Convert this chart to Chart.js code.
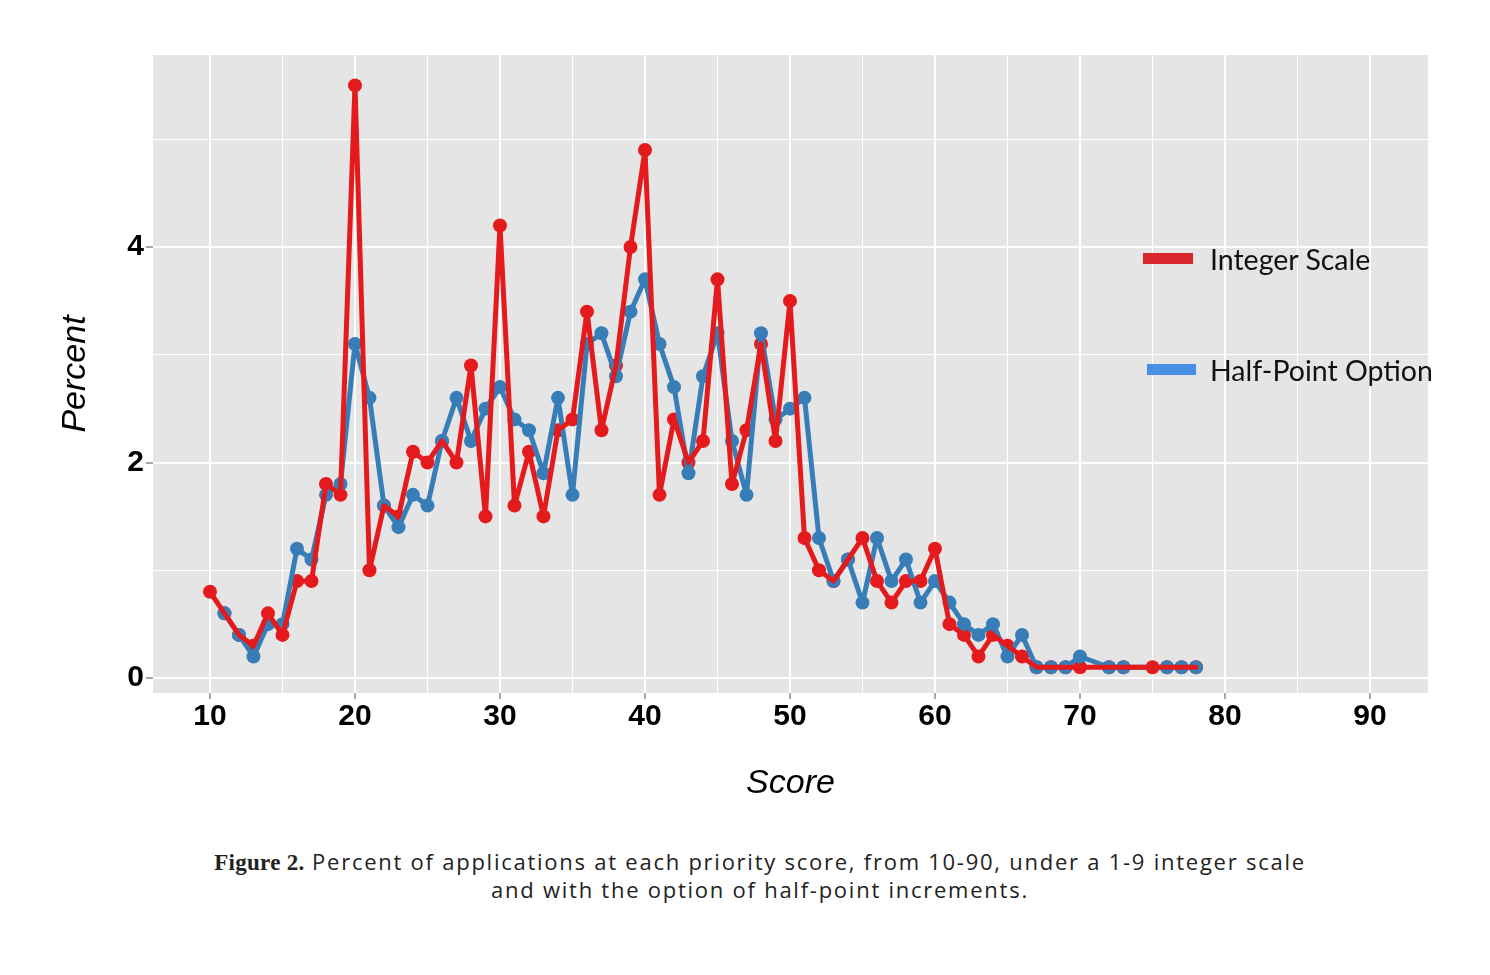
<!DOCTYPE html>
<html>
<head>
<meta charset="utf-8">
<script src="https://cdn.jsdelivr.net/npm/chart.js@4.4.1/dist/chart.umd.min.js"></script>
<style>
  html, body { margin: 0; padding: 0; background: #ffffff; }
  body { width: 1490px; height: 975px; position: relative; overflow: hidden; }
  #wrap { position: absolute; left: 0; top: 0; width: 1490px; height: 830px; }
  .leg-bar { position: absolute; height: 11px; }
  .leg-text { position: absolute; font-family: Lato, "Open Sans", sans-serif; font-size: 28.5px; color: #111; line-height: 1; white-space: nowrap; }
  #caption { position: absolute; left: 0; width: 1520px; top: 848px; text-align: center;
    font-family: "Open Sans", sans-serif; font-size: 22px; color: #222; letter-spacing: 1.75px; line-height: 27px; }
  #caption b { font-family: "Liberation Serif", "DejaVu Serif", serif; font-size: 23px; letter-spacing: 0.3px; font-weight: bold; }
</style>
</head>
<body>
<div id="wrap"><canvas id="c"></canvas></div>
<div class="leg-bar" style="left:1143px; top:253px; width:50px; background:#D9262C;"></div>
<div class="leg-text" style="left:1210px; top:245px;">Integer Scale</div>
<div class="leg-bar" style="left:1147px; top:364px; width:49px; background:#4A8FE6;"></div>
<div class="leg-text" style="left:1210px; top:356px;">Half-Point Option</div>
<div id="caption"><b>Figure 2.</b> Percent of applications at each priority score, from 10-90, under a 1-9 integer scale<br>and with the option of half-point increments.</div>
<script>
// ---- Data ----
const integerScores = [10,11,12,13,14,15,16,17,18,19,20,21,22,23,24,25,26,27,28,29,30,31,32,33,34,35,36,37,38,39,40,41,42,43,44,45,46,47,48,49,50,51,52,53,54,55,56,57,58,59,60,61,62,63,64,65,66,67,68,69,70,72,73,75,76,77,78];
const integerPercent = [0.8,0.6,0.4,0.3,0.6,0.4,0.9,0.9,1.8,1.7,5.5,1.0,1.6,1.5,2.1,2.0,2.2,2.0,2.9,1.5,4.2,1.6,2.1,1.5,2.3,2.4,3.4,2.3,2.9,4.0,4.9,1.7,2.4,2.0,2.2,3.7,1.8,2.3,3.1,2.2,3.5,1.3,1.0,0.9,1.1,1.3,0.9,0.7,0.9,0.9,1.2,0.5,0.4,0.2,0.4,0.3,0.2,0.1,0.1,0.1,0.1,0.1,0.1,0.1,0.1,0.1,0.1];

const halfScores = [11,12,13,14,15,16,17,18,19,20,21,22,23,24,25,26,27,28,29,30,31,32,33,34,35,36,37,38,39,40,41,42,43,44,45,46,47,48,49,50,51,52,53,54,55,56,57,58,59,60,61,62,63,64,65,66,67,68,69,70,72,73,76,77,78];
const halfPercent = [0.6,0.4,0.2,0.5,0.5,1.2,1.1,1.7,1.8,3.1,2.6,1.6,1.4,1.7,1.6,2.2,2.6,2.2,2.5,2.7,2.4,2.3,1.9,2.6,1.7,3.1,3.2,2.8,3.4,3.7,3.1,2.7,1.9,2.8,3.2,2.2,1.7,3.2,2.4,2.5,2.6,1.3,0.9,1.1,0.7,1.3,0.9,1.1,0.7,0.9,0.7,0.5,0.4,0.5,0.2,0.4,0.1,0.1,0.1,0.2,0.1,0.1,0.1,0.1,0.1];

const xTickLabels = [10,20,30,40,50,60,70,80,90];
const yTickLabels = [0,2,4];

const seriesNames = ['Integer Scale', 'Half-Point Option'];
const RED = '#E41A1C';
const BLUE = '#377EB8';

const toPoints = (xs, ys) => xs.map((x, i) => ({ x: x, y: ys[i] }));
const intPts = toPoints(integerScores, integerPercent);
const halfPts = toPoints(halfScores, halfPercent);

const panelBg = {
  id: 'panelBg',
  beforeDraw(chart) {
    const { ctx, chartArea: a } = chart;
    ctx.save();
    ctx.fillStyle = '#E5E5E5';
    ctx.fillRect(a.left, a.top, a.right - a.left, a.bottom - a.top);
    ctx.restore();
  }
};

const isMajorX = v => xTickLabels.includes(Math.round(v));
const isMajorY = v => yTickLabels.includes(Math.round(v));

new Chart(document.getElementById('c'), {
  type: 'line',
  data: {
    datasets: [
      { // red line on top
        label: seriesNames[0], data: intPts, order: 0,
        borderColor: RED, backgroundColor: RED, borderWidth: 5,
        borderJoinStyle: 'round', borderCapStyle: 'round',
        pointRadius: 0, tension: 0, fill: false
      },
      { // blue line + points
        label: seriesNames[1], data: halfPts, order: 1,
        borderColor: BLUE, backgroundColor: BLUE, borderWidth: 5,
        borderJoinStyle: 'round', borderCapStyle: 'round',
        pointRadius: 7, pointBorderWidth: 0, pointBackgroundColor: BLUE, tension: 0, fill: false
      },
      { // red points beneath
        label: seriesNames[0] + ' points', data: intPts, order: 2, showLine: false,
        borderColor: RED, backgroundColor: RED,
        pointRadius: 7, pointBorderWidth: 0, pointBackgroundColor: RED
      }
    ]
  },
  options: {
    responsive: true,
    maintainAspectRatio: false,
    animation: false,
    layout: { padding: { left: 0, top: 55, right: 62, bottom: 0 } },
    plugins: { legend: { display: false }, tooltip: { enabled: false } },
    scales: {
      x: {
        type: 'linear', min: 6.07, max: 94,
        afterFit(s) { s.height = 137; },
        border: { display: false },
        ticks: {
          stepSize: 5, includeBounds: false, autoSkip: false, maxRotation: 0, padding: 0,
          color: '#000', font: { family: 'Liberation Sans, Arial, sans-serif', size: 30, weight: 'bold' },
          callback: v => isMajorX(v) && v % 10 === 0 ? String(v) : ''
        },
        grid: {
          color: '#FFFFFF',
          lineWidth: c => (c.tick && c.tick.value % 10 === 0) ? 2 : 1,
          tickLength: 6,
          tickColor: c => (c.tick && c.tick.value % 10 === 0) ? '#8a8a8a' : 'rgba(0,0,0,0)',
          tickWidth: 1.5
        },
        title: {
          display: true, text: 'Score', color: '#000',
          font: { family: 'Liberation Sans, Arial, sans-serif', size: 34, style: 'italic' },
          padding: { top: 0, bottom: 26 }
        }
      },
      y: {
        type: 'linear', min: -0.139, max: 5.782,
        afterFit(s) { s.width = 153; },
        border: { display: false },
        ticks: {
          stepSize: 1, includeBounds: false, autoSkip: false, padding: 2,
          color: '#000', font: { family: 'Liberation Sans, Arial, sans-serif', size: 30, weight: 'bold' },
          callback: v => (v % 2 === 0) ? String(v) : ''
        },
        grid: {
          color: '#FFFFFF',
          lineWidth: c => (c.tick && c.tick.value % 2 === 0) ? 2 : 1,
          tickLength: 7,
          tickColor: c => (c.tick && c.tick.value % 2 === 0) ? '#8a8a8a' : 'rgba(0,0,0,0)',
          tickWidth: 1.5
        },
        title: {
          display: true, text: 'Percent', color: '#000',
          font: { family: 'Liberation Sans, Arial, sans-serif', size: 34, style: 'italic' },
          padding: { top: 55, bottom: 0 }
        }
      }
    }
  },
  plugins: [panelBg]
});
</script>
</body>
</html>
